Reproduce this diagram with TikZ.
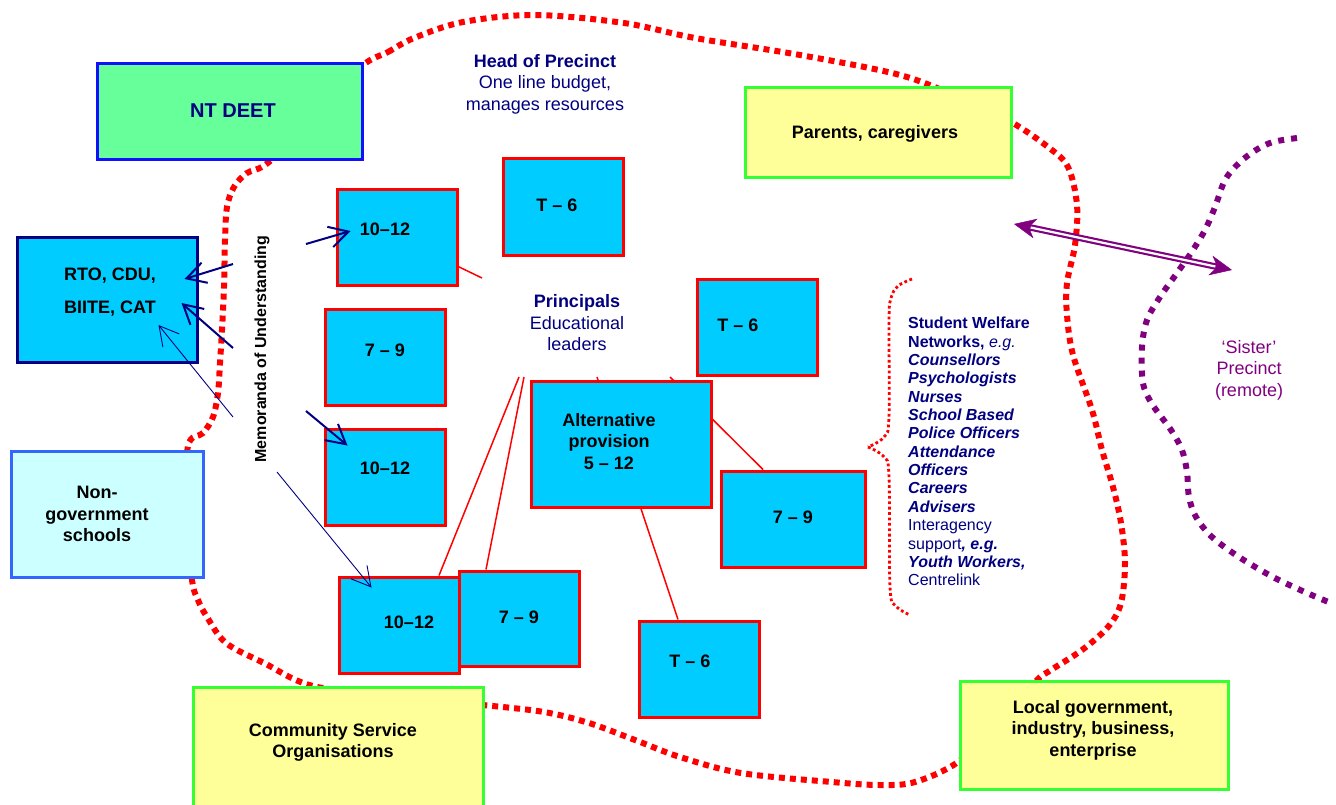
\documentclass[tikz,border=0pt]{standalone}
\usepackage{fontspec}
\setmainfont{Liberation Sans}
\usetikzlibrary{arrows.meta,calc}
\pgfdeclarelayer{back}
\pgfdeclarelayer{mid}
\pgfsetlayers{back,mid,main}

\definecolor{cyanfill}{HTML}{00CCFF}
\definecolor{deetgreen}{HTML}{66FF99}
\definecolor{deetblue}{HTML}{1010FF}
\definecolor{paleyellow}{HTML}{FFFF99}
\definecolor{limeedge}{HTML}{33FF33}
\definecolor{navy}{HTML}{000080}
\definecolor{boxred}{HTML}{FF0000}
\definecolor{palecyan}{HTML}{CCFFFF}
\definecolor{ngblue}{HTML}{3366FF}
\definecolor{sisterpurple}{HTML}{800080}

\begin{document}
\begin{tikzpicture}[x=1pt,y=-1pt,
  redbox/.style={draw=boxred, line width=3pt, fill=cyanfill, inner sep=0pt,
                 minimum width=120pt, minimum height=96pt},
  outerbox/.style={line width=3pt, inner sep=0pt, align=center, text=black,
                   font=\bfseries\fontsize{18}{21.5}\selectfont},
  lbl/.style={font=\bfseries\fontsize{18}{21.5}\selectfont, align=center, text=black, inner sep=0pt},
  precinct/.style={line width=6pt, draw=boxred, dash pattern=on 6pt off 5pt},
  sister/.style={line width=6pt, draw=sisterpurple, dash pattern=on 6pt off 7pt},
  bracedot/.style={line width=2.8pt, draw=boxred, dash pattern=on 2.8pt off 2.6pt},
  link/.style={draw=boxred, line width=1.5pt},
  mouthick/.style={draw=navy, line width=2pt, -{Straight Barb[length=19pt,width=21pt]}},
  mouthin/.style={draw=navy, line width=0.9pt, -{Straight Barb[length=19pt,width=21pt]}},
  heading/.style={text=navy, align=center, font=\fontsize{18}{21.5}\selectfont}
]
\useasboundingbox (0,0) rectangle (1336,804);

% precinct boundary
\begin{pgfonlayer}{back}
\draw[precinct] plot[smooth cycle, tension=0.55] coordinates {
  (362,66) (388,52) (414,38) (463,22) (535,15) (624,23) (695,38) (800,55)
  (900,75) (960,98) (1011,122) (1048,147) (1068,167) (1077,205) (1075,245)
  (1067,283) (1067,315) (1073,355) (1092,410) (1102,450) (1113,487)
  (1121,523) (1125,563) (1121,603) (1108,627) (1082,650) (1051,670)
  (1036,681) (1000,722) (958,762) (915,782) (880,785) (832,782) (741,773)
  (680,757) (635,740) (589,723) (544,712) (483,705) (400,697) (313,686)
  (264,663) (226,643) (207,617) (198,600) (192,580) (186,515) (188,446)
  (203,433) (213,417) (218,393) (220,363) (222,330) (224,287) (225,240)
  (227,207) (234,187) (247,173) (269,162) (320,112)};

% remote sister precinct boundary
\draw[sister] plot[smooth, tension=0.55] coordinates {
  (1297,138) (1273,142) (1256,150) (1239,163) (1225,180) (1215,207)
  (1205,230) (1191,253) (1177,273) (1160,297) (1147,320) (1142,347)
  (1143,383) (1152,404) (1171,430) (1182,450) (1187,472) (1189,497)
  (1196,517) (1212,537) (1239,557) (1273,577) (1307,593) (1331,603)};

% brace grouping the support services
\draw[bracedot] plot[smooth, tension=0.6] coordinates {
  (912,279) (898,286) (891,298) (889,320) (889,417) (884,437) (868,447)};
\draw[bracedot] plot[smooth, tension=0.6] coordinates {
  (868,447) (884,457) (889,477) (890,587) (896,606) (910,615)};
\end{pgfonlayer}

% outer partner boxes
\node[outerbox, draw=deetblue, fill=deetgreen, minimum width=265pt, minimum height=96pt,
      label={[text=navy, font=\bfseries\fontsize{20}{24}\selectfont, xshift=3.5pt]center:NT DEET}]
      (deet) at (229.5,111) {};
\node[outerbox, draw=limeedge, fill=paleyellow, minimum width=266pt, minimum height=90pt,
      label={[lbl, xshift=-3pt, yshift=-1.5pt]center:Parents, caregivers}]
      (parents) at (878,132) {};
\node[outerbox, draw=navy, fill=cyanfill, minimum width=180pt, minimum height=125pt,
      label={[lbl, font=\bfseries\fontsize{18}{33}\selectfont, xshift=3pt, yshift=7pt]center:{RTO, CDU,\\BIITE, CAT}}]
      (rto) at (107,299.5) {};
\node[outerbox, draw=ngblue, fill=palecyan, minimum width=192pt, minimum height=126pt,
      label={[lbl, xshift=-10pt]center:{Non-\\government\\schools}}]
      (nongov) at (107,514) {};
\node[outerbox, draw=limeedge, fill=paleyellow, minimum width=290pt, minimum height=143pt,
      label={[lbl, xshift=-5pt, yshift=16pt]center:{Community Service\\Organisations}}]
      (cso) at (338,758.5) {};
\node[outerbox, draw=limeedge, fill=paleyellow, minimum width=268pt, minimum height=108pt,
      label={[lbl, xshift=-1pt, yshift=5pt]center:{Local government,\\industry, business,\\enterprise}}]
      (localgov) at (1094,735) {};

% school boxes
\node[redbox, label={[lbl, xshift=-12pt, yshift=8pt]center:10–12}] (b1012a) at (397,237) {};
\node[redbox, minimum height=97pt, label={[lbl, xshift=-6pt, yshift=1pt]center:T – 6}] (t6a) at (563,206.5) {};
\node[redbox, label={[lbl, yshift=7pt]center:7 – 9}] (b79a) at (385,357) {};
\node[redbox, label={[lbl, yshift=9pt]center:10–12}] (b1012b) at (385,477) {};
\node[redbox, label={[lbl, xshift=10pt, yshift=3pt]center:10–12}] (b1012c) at (399,625) {};
\node[redbox, minimum height=95pt, label={[lbl, yshift=1pt]center:7 – 9}] (b79b) at (519,618.5) {};
\node[redbox, label={[lbl, xshift=-19pt, yshift=2pt]center:T – 6}] (t6b) at (757,327) {};
\node[redbox, minimum width=180pt, minimum height=126pt,
      label={[lbl, xshift=-12pt, yshift=2.5pt]center:{Alternative\\provision\\5 – 12}}] (alt) at (621,444) {};
\node[redbox, minimum width=144pt, label={[lbl, yshift=2pt]center:7 – 9}] (b79c) at (793,519) {};
\node[redbox, label={[lbl, xshift=-9pt, yshift=8pt]center:T – 6}] (t6c) at (699,669) {};

% texts
\node[heading] (head) at (545,84)
  {\textbf{Head of Precinct}\\One line budget,\\manages resources};
\node[heading] (princ) at (577,323)
  {\textbf{Principals}\\Educational\\leaders};
\node[heading, text=sisterpurple] (sis) at (1249,370)
  {‘Sister’\\Precinct\\(remote)};
\node[rotate=90, font=\bfseries\fontsize{16}{19}\selectfont, inner sep=0pt] (mou) at (262,349)
  {Memoranda of Understanding};
\node[anchor=north west, align=left, text=navy, inner sep=0pt,
      font=\fontsize{16}{18.35}\selectfont] (welfare) at (908,317)
  {\textbf{Student Welfare}\\
   \textbf{Networks,} \textit{e.g.}\\
   \textbf{\textit{Counsellors}}\\
   \textbf{\textit{Psychologists}}\\
   \textbf{\textit{Nurses}}\\
   \textbf{\textit{School Based}}\\
   \textbf{\textit{Police Officers}}\\
   \textbf{\textit{Attendance}}\\
   \textbf{\textit{Officers}}\\
   \textbf{\textit{Careers}}\\
   \textbf{\textit{Advisers}}\\
   Interagency\\
   support\textbf{\textit{, e.g.}}\\
   \textbf{\textit{Youth Workers,}}\\
   Centrelink};

% links from the principals to the schools
\coordinate (c1) at (482,278);
\coordinate (p1) at (519,377);
\coordinate (p2) at (524,377);
\coordinate (p3) at (597,377);
\coordinate (p4) at (670,377);
\begin{pgfonlayer}{mid}
\draw[link] (c1) -- (b1012a);
\draw[link] (p1) -- ($(b1012c.north)+(40,0)$);
\draw[link] (p2) -- ($(b79b.north)+(-33,0)$);
\draw[link] (p3) -- ($(t6c.north)+(-21,0)$);
\draw[link] (p4) -- ($(b79c.north)+(-30,0)$);
\end{pgfonlayer}

% memoranda of understanding arrows
\coordinate (m1) at (306,244);
\coordinate (m2) at (233,264);
\coordinate (m3) at (233,348);
\coordinate (m4) at (233,417);
\coordinate (m5) at (306,411);
\coordinate (m6) at (277,472);
\draw[mouthick] (m1) -- ($(b1012a.west)+(15,-6)$);
\draw[mouthick] (m2) -- ($(rto.east)+(-14,-20.5)$);
\draw[mouthick] (m3) -- ($(rto.east)+(-17,3.5)$);
\draw[mouthin]  (m4) -- ($(rto.east)+(-40,25.5)$);
\draw[mouthick] (m5) -- ($(b1012b.north west)+(24,18)$);
\draw[mouthin]  (m6) -- ($(b1012c.north west)+(34,12)$);

% link to the remote sister precinct
\coordinate (sa) at (1014,224);
\coordinate (sb) at (1232,270);
\draw[draw=sisterpurple, line width=6.5pt,
      {Stealth[length=22pt,width=20pt,inset=7pt,line width=0.5pt,fill=sisterpurple]}-{Stealth[length=22pt,width=20pt,inset=7pt,line width=0.5pt,fill=sisterpurple]}]
      (sa) -- (sb);
\draw[white, line width=2.2pt, shorten <=17pt, shorten >=17pt] (sa) -- (sb);
\end{tikzpicture}
\end{document}
